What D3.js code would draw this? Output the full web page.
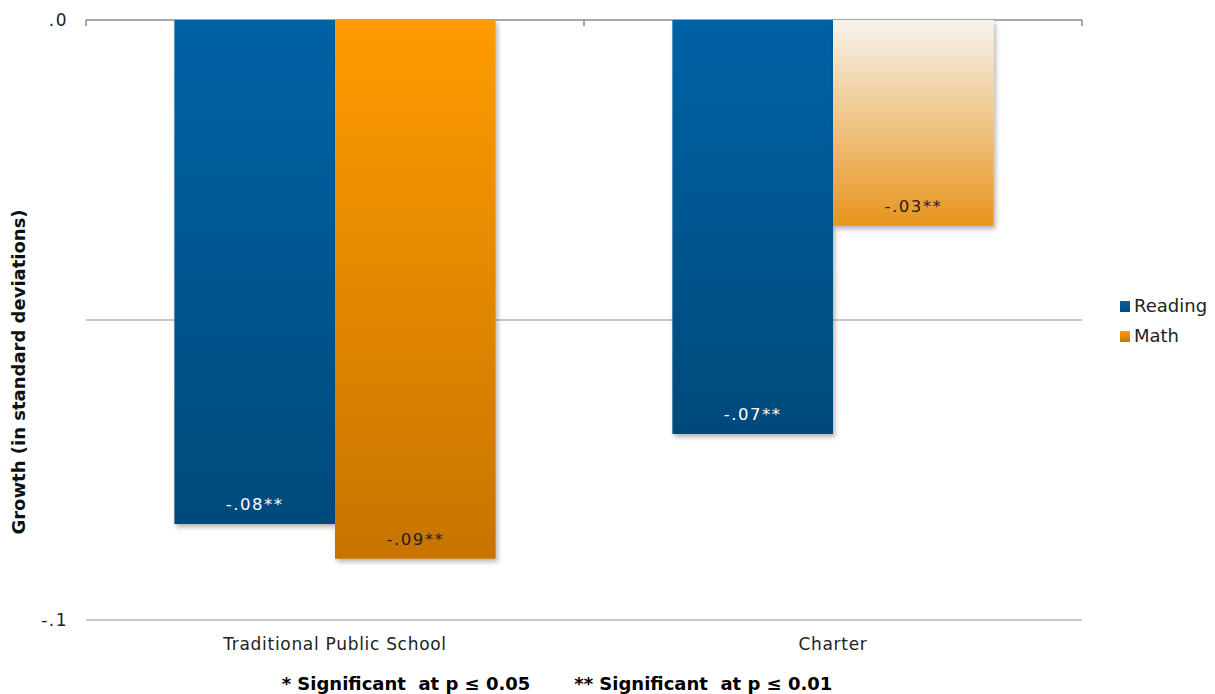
<!DOCTYPE html>
<html><head><meta charset="utf-8">
<script src="https://cdn.jsdelivr.net/npm/d3@7"></script>
<style>body{margin:0;background:#fff}svg{display:block}</style>
</head><body>
<script>
const categories = ["Traditional Public School", "Charter"];
const series = ["Reading", "Math"];
const readingValues = [-0.084, -0.069];
const mathValues = [-0.0898, -0.0343];
const valueLabels = [["-.08**", "-.09**"], ["-.07**", "-.03**"]];
const yTicks = [0, -0.05, -0.1];
const yTickLabels = {"0": ".0", "-0.1": "-.1"};
const footnote = "* Significant  at p \u2264 0.05       ** Significant  at p \u2264 0.01";

const W = 1215, H = 694;
const svg = d3.select("body").append("svg").attr("width", W).attr("height", H);
const defs = svg.append("defs");

function grad(id, c1, c2){
  const g = defs.append("linearGradient").attr("id", id).attr("x1",0).attr("y1",0).attr("x2",0).attr("y2",1);
  g.append("stop").attr("offset","0%").attr("stop-color",c1);
  g.append("stop").attr("offset","100%").attr("stop-color",c2);
}
grad("gRead", "#0662a5", "#044a7b");
grad("gMath", "#ff9b00", "#c77400");
grad("gMath2", "#f7f3ee", "#e8951c");
grad("gLegR", "#0662a5", "#044a7b");
grad("gLegM", "#ff9b00", "#c77400");
const f = defs.append("filter").attr("id","sh").attr("x","-10%").attr("y","-10%").attr("width","130%").attr("height","130%");
f.append("feDropShadow").attr("dx",2).attr("dy",3).attr("stdDeviation",2.5).attr("flood-color","#000").attr("flood-opacity",0.3);

const x0 = d3.scaleBand().domain(categories).range([86, 1082]).paddingInner(0).paddingOuter(0);
const x1 = d3.scaleBand().domain(series).range([0, x0.bandwidth()]).paddingInner(0).paddingOuter(0.55);
const y = d3.scaleLinear().domain([-0.1, 0]).range([620, 20]);

const font = "Verdana, 'DejaVu Sans', sans-serif";

// gridlines
svg.append("g").selectAll("line").data(yTicks).join("line")
  .attr("x1", 86).attr("x2", 1082)
  .attr("y1", d => y(d)).attr("y2", d => y(d))
  .attr("stroke", d => d === 0 ? "#8c8c8c" : "#b4b4b4").attr("stroke-width", 1.5);

// category tick marks at top axis
const bounds = [86, ...categories.map(c => x0(c) + x0.bandwidth())];
svg.append("g").selectAll("line").data(bounds).join("line")
  .attr("x1", d => d).attr("x2", d => d).attr("y1", 20).attr("y2", 26)
  .attr("stroke", "#8c8c8c").attr("stroke-width", 1.5);

// y tick labels
svg.append("g").selectAll("text").data(yTicks.filter(d => yTickLabels[String(d)] !== undefined)).join("text")
  .attr("x", 68).attr("y", d => y(d)).attr("dy", "0.35em")
  .attr("text-anchor", "end").attr("font-family", font).attr("font-size", 17).attr("fill", "#222")
  .attr("letter-spacing", 1.5)
  .text(d => yTickLabels[String(d)]);

// bars
const data = [];
categories.forEach((c, i) => {
  data.push({c, s: "Reading", v: readingValues[i], lab: valueLabels[i][0], fill: "url(#gRead)", tc: "#fff"});
  data.push({c, s: "Math", v: mathValues[i], lab: valueLabels[i][1], fill: i === 0 ? "url(#gMath)" : "url(#gMath2)", tc: "#222"});
});
const bars = svg.append("g");
bars.selectAll("rect").data(data).join("rect")
  .attr("x", d => x0(d.c) + x1(d.s)).attr("width", x1.bandwidth())
  .attr("y", y(0)).attr("height", d => y(d.v) - y(0))
  .attr("fill", d => d.fill).attr("filter", "url(#sh)");

svg.append("g").selectAll("text").data(data).join("text")
  .attr("x", d => x0(d.c) + x1(d.s) + x1.bandwidth()/2)
  .attr("y", d => y(d.v) - 14)
  .attr("text-anchor", "middle").attr("font-family", font).attr("font-size", 16.5)
  .attr("letter-spacing", 1.5).attr("fill", d => d.tc)
  .text(d => d.lab);

// category labels
svg.append("g").selectAll("text").data(categories).join("text")
  .attr("x", d => x0(d) + x0.bandwidth()/2).attr("y", 650)
  .attr("text-anchor", "middle").attr("font-family", font).attr("font-size", 17)
  .attr("letter-spacing", 0.7).attr("fill", "#222")
  .text(d => d);

// y title
svg.append("text").attr("transform", "translate(25,372) rotate(-90)")
  .attr("text-anchor", "middle").attr("font-family", font).attr("font-size", 18)
  .attr("font-weight", "bold").attr("fill", "#111")
  .text("Growth (in standard deviations)");

// legend
const leg = svg.append("g").selectAll("g").data(series).join("g")
  .attr("transform", (d, i) => `translate(1120,${300 + i * 30})`);
leg.append("rect").attr("width", 10).attr("height", 11).attr("y", 1)
  .attr("fill", (d, i) => i === 0 ? "url(#gLegR)" : "url(#gLegM)");
leg.append("text").attr("x", 14).attr("y", 6).attr("dy", "0.35em")
  .attr("font-family", font).attr("font-size", 18).attr("fill", "#222")
  .text(d => d);

// footnote
svg.append("text").attr("x", 557).attr("y", 690).attr("text-anchor", "middle")
  .attr("font-family", font).attr("font-size", 18).attr("font-weight", "bold").attr("fill", "#000")
  .attr("xml:space", "preserve").style("white-space", "pre")
  .text(footnote);
</script>
</body></html>
